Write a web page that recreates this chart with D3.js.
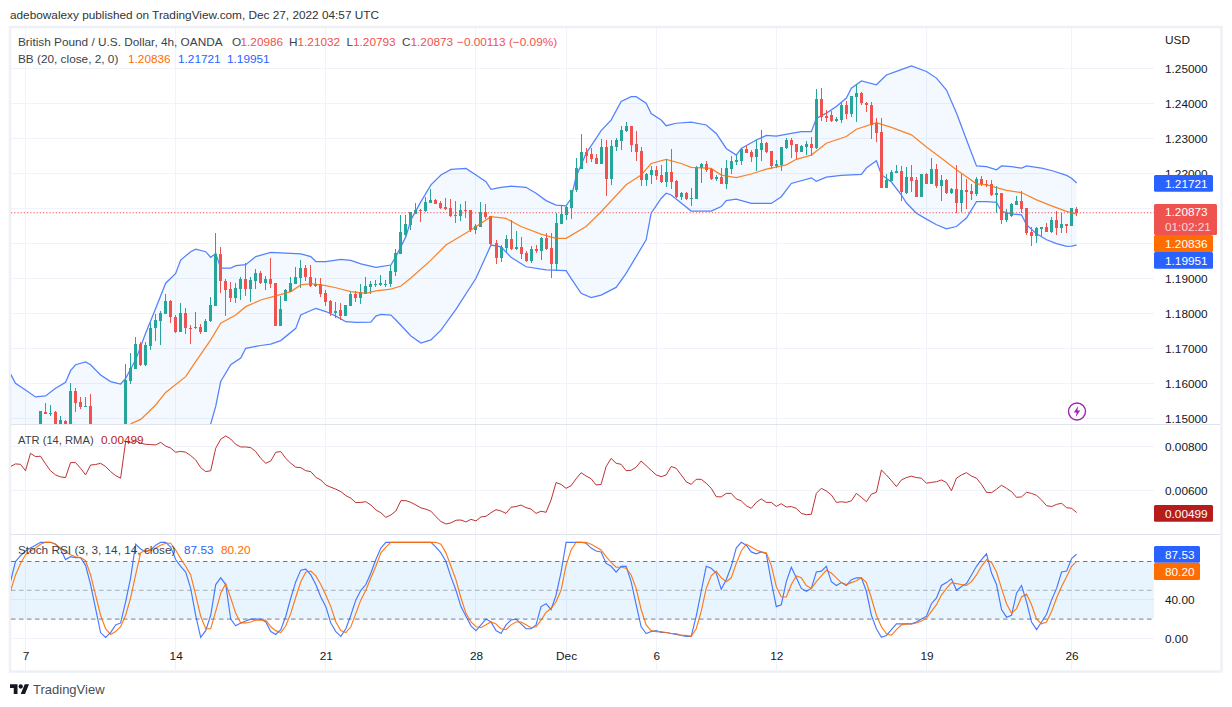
<!DOCTYPE html>
<html><head><meta charset="utf-8">
<script src="https://cdn.jsdelivr.net/npm/d3@7"></script>
<style>html,body{margin:0;padding:0;background:#fff;overflow:hidden}svg{display:block}</style>
</head><body><svg id="c" width="1232" height="707"></svg>
<script>
const N=null;
const opens=[N,N,N,N,N,N,1.1465,1.1519,1.1513,1.1517,
1.1465,1.1493,1.1470,1.1579,1.1547,1.1531,1.1536,N,N,N,
N,N,N,1.1460,1.1608,1.1642,1.1713,1.1651,1.1707,1.1757,
1.1779,1.1799,1.1836,1.1790,1.1748,1.1801,1.1759,1.1757,1.1761,1.1748,
1.1777,1.1821,1.1970,1.1893,1.1869,1.1845,1.1869,1.1898,1.1869,1.1892,
1.1915,1.1887,1.1898,1.1887,1.1765,1.1836,1.1862,1.1884,1.1901,1.1930,
1.1904,1.1878,1.1884,1.1858,1.1835,1.1802,1.1810,1.1793,1.1821,1.1855,
1.1844,1.1855,1.1875,1.1880,1.1881,1.1881,1.1884,1.1918,1.1970,1.2024,
1.2052,1.2084,1.2095,1.2092,1.2116,1.2124,1.2115,1.2104,1.2101,1.2081,
1.2078,1.2095,1.2095,1.2038,1.2047,1.2090,1.2078,1.2001,1.1957,1.1986,
1.2013,1.1984,1.1990,1.1973,1.1950,1.1984,1.1978,1.2015,1.1987,1.1941,
1.2055,1.2081,1.2101,1.2153,1.2213,1.2261,1.2255,1.2244,1.2227,1.2275,
1.2184,1.2275,1.2292,1.2320,1.2335,1.2284,1.2264,1.2181,1.2195,1.2209,
1.2195,1.2175,1.2204,1.2178,1.2133,1.2144,1.2127,1.2127,1.2215,1.2227,
1.2213,1.2184,1.2190,1.2170,1.2213,1.2233,1.2236,1.2270,1.2261,1.2247,
1.2267,1.2287,1.2264,1.2221,1.2224,1.2273,1.2296,1.2284,1.2261,1.2276,
1.2284,1.2273,1.2413,1.2364,1.2367,1.2350,1.2353,1.2396,1.2370,1.2418,
1.2430,1.2401,1.2396,1.2344,1.2318,1.2158,1.2178,1.2201,1.2207,1.2144,
1.2190,1.2181,1.2133,1.2198,1.2170,1.2213,1.2164,1.2181,1.2144,1.2155,
1.2115,1.2153,1.2150,1.2141,1.2184,1.2170,1.2170,1.2138,1.2144,1.2067,
1.2078,1.2110,1.2121,1.2101,1.2033,1.2021,1.2041,1.2047,1.2033,1.2067,
1.2044,1.2056,1.2050,1.20986];
const highs=[N,N,N,N,N,N,1.1522,1.1545,1.1539,1.1522,
1.1508,1.1496,1.1600,1.1587,1.1562,1.1562,1.1570,N,N,N,
N,N,N,1.1656,1.1686,1.1733,1.1719,1.1719,1.1772,1.1799,
1.1808,1.1856,1.1837,1.1795,1.1830,1.1816,1.1766,1.1804,1.1769,1.1784,
1.1847,1.2030,1.1990,1.1897,1.1890,1.1886,1.1903,1.1943,1.1904,1.1927,
1.1922,1.1907,1.1958,1.1888,1.1850,1.1869,1.1904,1.1932,1.1952,1.1938,
1.1938,1.1902,1.1900,1.1868,1.1838,1.1832,1.1830,1.1824,1.1862,1.1864,
1.1884,1.1904,1.1892,1.1895,1.1910,1.1895,1.1938,1.1984,1.2081,1.2081,
1.2090,1.2115,1.2098,1.2132,1.2155,1.2127,1.2121,1.2130,1.2127,1.2121,
1.2113,1.2121,1.2095,1.2055,1.2118,1.2113,1.2078,1.2009,1.1995,1.2024,
1.2067,1.2035,1.2018,1.1978,1.1993,1.1995,1.2018,1.2030,1.2030,1.2087,
1.2107,1.2107,1.2153,1.2244,1.2313,1.2273,1.2273,1.2255,1.2298,1.2295,
1.2295,1.2301,1.2335,1.2346,1.2335,1.2321,1.2275,1.2201,1.2221,1.2221,
1.2224,1.2241,1.2270,1.2180,1.2147,1.2147,1.2158,1.2221,1.2230,1.2236,
1.2216,1.2196,1.2216,1.2238,1.2250,1.2253,1.2273,1.2279,1.2267,1.2296,
1.2324,1.2290,1.2264,1.2238,1.2276,1.2301,1.2301,1.2284,1.2281,1.2293,
1.2304,1.2441,1.2444,1.2381,1.2378,1.2361,1.2404,1.2407,1.2421,1.2456,
1.2433,1.2404,1.2404,1.2358,1.2357,1.2198,1.2210,1.2224,1.2221,1.2218,
1.2224,1.2190,1.2198,1.2201,1.2244,1.2227,1.2195,1.2184,1.2158,1.2224,
1.2198,1.2184,1.2170,1.2190,1.2193,1.2181,1.2181,1.2164,1.2144,1.2098,
1.2115,1.2135,1.2150,1.2101,1.2047,1.2047,1.2047,1.2058,1.2075,1.2093,
1.2087,1.2056,1.2101,1.21032];
const lows=[N,N,N,N,N,N,1.1450,1.1513,1.1508,1.1440,
1.1450,1.1450,1.1450,1.1517,1.1526,1.1531,1.1440,N,N,N,
N,N,N,1.1440,1.1597,1.1642,1.1650,1.1650,1.1694,1.1722,
1.1710,1.1799,1.1771,1.1745,1.1748,1.1742,1.1713,1.1754,1.1742,1.1748,
1.1774,1.1821,1.1859,1.1793,1.1832,1.1830,1.1838,1.1850,1.1833,1.1870,
1.1884,1.1867,1.1873,1.1765,1.1765,1.1836,1.1862,1.1884,1.1872,1.1892,
1.1876,1.1876,1.1848,1.1821,1.1793,1.1788,1.1781,1.1792,1.1821,1.1832,
1.1827,1.1855,1.1855,1.1875,1.1878,1.1876,1.1875,1.1907,1.1970,1.2021,
1.2038,1.2084,1.2062,1.2090,1.2116,1.2112,1.2098,1.2095,1.2075,1.2058,
1.2064,1.2072,1.2033,1.2027,1.2047,1.2070,1.1995,1.1941,1.1948,1.1975,
1.1981,1.1981,1.1955,1.1947,1.1944,1.1973,1.1953,1.1981,1.1902,1.1924,
1.2055,1.2067,1.2070,1.2147,1.2213,1.2230,1.2233,1.2227,1.2227,1.2136,
1.2167,1.2263,1.2267,1.2318,1.2262,1.2235,1.2164,1.2164,1.2169,1.2181,
1.2172,1.2161,1.2156,1.2130,1.2124,1.2124,1.2107,1.2127,1.2173,1.2204,
1.2181,1.2178,1.2170,1.2156,1.2199,1.2224,1.2224,1.2258,1.2233,1.2207,
1.2236,1.2259,1.2213,1.2216,1.2207,1.2270,1.2244,1.2242,1.2261,1.2252,
1.2250,1.2270,1.2350,1.2347,1.2347,1.2347,1.2344,1.2356,1.2360,1.2347,
1.2396,1.2376,1.2299,1.2290,1.2158,1.2158,1.2177,1.2200,1.2121,1.2141,
1.2147,1.2133,1.2133,1.2169,1.2170,1.2158,1.2121,1.2141,1.2141,1.2087,
1.2090,1.2098,1.2124,1.2135,1.2164,1.2161,1.2135,1.2087,1.2056,1.2061,
1.2075,1.2110,1.2087,1.2024,1.1993,1.2001,1.2021,1.2033,1.2030,1.2024,
1.2030,1.2030,1.2050,1.20793];
const closes=[N,N,N,N,N,N,1.1520,1.1513,1.1516,1.1465,
1.1494,1.1470,1.1579,1.1545,1.1532,1.1536,1.1450,N,N,N,
N,N,N,1.1610,1.1644,1.1713,1.1651,1.1710,1.1759,1.1781,
1.1801,1.1836,1.1789,1.1747,1.1801,1.1757,1.1756,1.1761,1.1748,1.1779,
1.1824,1.1970,1.1891,1.1868,1.1844,1.1872,1.1899,1.1870,1.1895,1.1915,
1.1887,1.1898,1.1884,1.1765,1.1812,1.1867,1.1887,1.1904,1.1930,1.1904,
1.1878,1.1885,1.1855,1.1832,1.1800,1.1808,1.1792,1.1824,1.1855,1.1844,
1.1861,1.1878,1.1884,1.1884,1.1887,1.1884,1.1921,1.1972,1.2032,1.2055,
1.2090,1.2095,1.2091,1.2118,1.2124,1.2113,1.2101,1.2098,1.2078,1.2078,
1.2095,1.2092,1.2038,1.2050,1.2090,1.2075,1.1998,1.1958,1.1990,1.2013,
1.1984,1.1990,1.1970,1.1950,1.1984,1.1978,1.2015,1.1984,1.1941,1.2058,
1.2084,1.2104,1.2153,1.2215,1.2261,1.2250,1.2241,1.2227,1.2275,1.2184,
1.2278,1.2295,1.2324,1.2335,1.2282,1.2261,1.2181,1.2198,1.2209,1.2192,
1.2175,1.2204,1.2175,1.2133,1.2144,1.2127,1.2130,1.2218,1.2227,1.2210,
1.2184,1.2190,1.2170,1.2216,1.2236,1.2239,1.2270,1.2259,1.2247,1.2270,
1.2287,1.2261,1.2221,1.2227,1.2276,1.2296,1.2281,1.2261,1.2278,1.2284,
1.2273,1.2413,1.2361,1.2358,1.2350,1.2356,1.2396,1.2370,1.2421,1.2430,
1.2400,1.2394,1.2338,1.2316,1.2158,1.2181,1.2204,1.2207,1.2147,1.2190,
1.2178,1.2133,1.2198,1.2170,1.2213,1.2164,1.2181,1.2144,1.2155,1.2115,
1.2153,1.2147,1.2141,1.2184,1.2170,1.2167,1.2138,1.2144,1.2067,1.2087,
1.2113,1.2121,1.2098,1.2030,1.2021,1.2044,1.2047,1.2033,1.2067,1.2044,
1.2056,1.2050,1.2101,1.20873];

const upperBars=[0,1,3,5,7,9,11,12,13,15,16,18,20,22,23,25,27,29,31,33,34,36,37,39,40,41,42,44,45,47,49,52,55,58,60,61,63,66,68,70,73,76,77,79,80,82,84,86,88,91,93,95,96,98,100,103,105,107,109,111,112,113,115,117,118,120,122,124,125,127,128,130,131,133,136,139,141,143,145,146,149,151,153,156,158,160,161,163,165,167,168,170,173,175,177,180,183,185,187,189,191,193,195,197,198,200,202,203,206,208,211,212,213];
const upperBand=[1.1627,1.1600,1.1581,1.1561,1.1564,1.1586,1.1603,1.1636,1.1653,1.1661,1.1653,1.1624,1.1605,1.1598,1.1614,1.1667,1.1743,1.1814,1.1886,1.1914,1.1952,1.1976,1.1983,1.1976,1.1960,1.1971,1.1929,1.1929,1.1936,1.1939,1.1962,1.1974,1.1972,1.1970,1.1962,1.1948,1.1948,1.1954,1.1951,1.1941,1.1931,1.1938,1.1962,1.2019,1.2067,1.2119,1.2167,1.2195,1.2211,1.2214,1.2195,1.2176,1.2154,1.2160,1.2163,1.2160,1.2143,1.2122,1.2109,1.2107,1.2128,1.2190,1.2257,1.2300,1.2322,1.2352,1.2405,1.2419,1.2419,1.2400,1.2371,1.2352,1.2336,1.2343,1.2346,1.2338,1.2314,1.2271,1.2252,1.2271,1.2295,1.2308,1.2306,1.2314,1.2319,1.2319,1.2357,1.2372,1.2391,1.2415,1.2443,1.2464,1.2453,1.2481,1.2491,1.2507,1.2491,1.2472,1.2438,1.2372,1.2296,1.2221,1.2219,1.2210,1.2221,1.2219,1.2215,1.2221,1.2215,1.2208,1.2194,1.2186,1.21721];
const basisBars=[24,26,27,29,31,35,37,40,42,45,47,50,53,56,58,60,63,65,68,71,73,76,78,80,84,87,92,96,99,102,106,109,111,115,118,123,126,128,131,134,136,140,142,145,148,151,155,157,160,163,167,169,173,176,180,183,186,189,193,195,199,202,205,208,211,213];
const basisBand=[1.1484,1.1497,1.1510,1.1538,1.1574,1.1619,1.1662,1.1724,1.1772,1.1795,1.1819,1.1838,1.1850,1.1862,1.1881,1.1885,1.1879,1.1873,1.1862,1.1857,1.1864,1.1869,1.1878,1.1901,1.1952,1.1995,1.2038,1.2076,1.2071,1.2048,1.2026,1.2014,1.2014,1.2048,1.2090,1.2167,1.2195,1.2228,1.2240,1.2228,1.2217,1.2214,1.2195,1.2188,1.2198,1.2212,1.2224,1.2240,1.2252,1.2286,1.2305,1.2326,1.2345,1.2331,1.2310,1.2275,1.2243,1.2210,1.2170,1.2167,1.2151,1.2145,1.2124,1.2107,1.2091,1.20836];
const lowerBars=[0,39,40,41,42,44,46,47,50,52,54,57,58,60,61,63,65,67,69,72,73,74,76,77,80,82,84,86,89,93,96,98,100,103,107,111,112,114,116,118,121,123,127,128,130,131,132,136,140,142,143,145,148,152,154,156,160,161,163,166,170,171,173,174,176,178,179,181,183,185,187,189,191,193,195,197,198,200,202,203,205,207,209,211,212,213];
const lowerBand=[1.1400,1.1400,1.1484,1.1534,1.1605,1.1653,1.1672,1.1700,1.1708,1.1712,1.1722,1.1757,1.1795,1.1808,1.1814,1.1805,1.1792,1.1776,1.1774,1.1775,1.1792,1.1797,1.1795,1.1781,1.1735,1.1715,1.1724,1.1752,1.1811,1.1900,1.1995,1.1990,1.1960,1.1933,1.1924,1.1922,1.1900,1.1857,1.1845,1.1852,1.1874,1.1914,1.2010,1.2086,1.2128,1.2143,1.2138,1.2092,1.2092,1.2105,1.2122,1.2126,1.2114,1.2114,1.2133,1.2171,1.2187,1.2177,1.2189,1.2194,1.2197,1.2215,1.2236,1.2196,1.2175,1.2138,1.2115,1.2086,1.2069,1.2053,1.2041,1.2048,1.2072,1.2119,1.2119,1.2117,1.2091,1.2084,1.2081,1.2053,1.2027,1.2010,1.1999,1.1991,1.1992,1.19951];

const atrValues=[.00708,.00720,.00718,.00689,.00768,.00753,.00755,.00720,.00689,.00670,
.00661,.00658,.00726,.00726,.00700,.00670,.00715,.00717,.00723,.00708,
.00685,.00667,.00655,.00821,.00817,.00826,.00814,.00809,.00808,.00806,
.00818,.00801,.00792,.00773,.00777,.00773,.00758,.00738,.00703,.00685,
.00689,.00791,.00832,.00847,.00833,.00809,.00797,.00797,.00794,.00776,
.00745,.00723,.00733,.00773,.00776,.00745,.00723,.00705,.00703,.00689,
.00685,.00659,.00647,.00624,.00614,.00605,.00594,.00576,.00564,.00544,
.00545,.00548,.00533,.00511,.00498,.00477,.00488,.00506,.00553,.00553,
.00545,.00533,.00520,.00514,.00505,.00480,.00458,.00447,.00452,.00464,
.00465,.00456,.00468,.00461,.00479,.00482,.00498,.00512,.00506,.00495,
.00523,.00526,.00533,.00521,.00515,.00495,.00505,.00500,.00556,.00635,
.00627,.00609,.00621,.00652,.00680,.00665,.00653,.00624,.00627,.00708,
.00745,.00723,.00718,.00689,.00691,.00705,.00733,.00712,.00691,.00670,
.00662,.00670,.00708,.00700,.00670,.00639,.00627,.00650,.00650,.00632,
.00609,.00571,.00570,.00586,.00586,.00561,.00552,.00530,.00518,.00545,
.00561,.00545,.00545,.00527,.00539,.00524,.00526,.00518,.00495,.00489,
.00491,.00586,.00609,.00597,.00579,.00545,.00548,.00545,.00552,.00586,
.00568,.00548,.00582,.00591,.00692,.00670,.00644,.00617,.00647,.00658,
.00664,.00658,.00655,.00632,.00636,.00639,.00647,.00635,.00598,.00655,
.00670,.00680,.00665,.00655,.00627,.00591,.00589,.00605,.00623,.00609,
.00594,.00568,.00570,.00591,.00586,.00577,.00556,.00530,.00526,.00536,
.00541,.00521,.00518,.00499];

const stochK=[59,80,86,91,94,97,100,100,100,98,
93,82,85,84,84,76,56,31,6,1,
6,14,16,38,63,98,93,90,92,97,
100,100,95,82,75,69,52,24,1,8,
24,56,63,56,20,13,16,18,20,20,
20,17,7,4,9,23,42,59,71,72,
66,56,43,33,16,7,2,10,24,40,
50,56,68,82,94,100,100,100,100,100,
100,100,100,100,100,95,89,80,64,50,
33,23,13,8,14,20,17,8,5,14,
19,20,15,10,10,14,33,36,30,45,
69,100,100,100,100,99,94,91,90,78,
75,69,75,75,59,35,12,5,7,8,
6,6,5,4,3,2,2,23,49,75,
73,68,51,61,75,94,100,97,90,88,
90,88,59,33,35,59,74,63,52,49,
52,69,70,75,59,55,58,55,61,63,
63,49,24,10,1,3,9,15,15,15,
15,17,20,23,36,42,55,58,62,50,
54,57,66,75,82,88,68,56,30,22,
24,47,55,38,17,9,17,25,40,52,
69,70,83,87.53];
const stochD=[49,66,78,87,91,94,98,100,100,98,
94,90,87,85,84,81,66,45,24,10,
4,7,12,24,42,66,89,92,91,94,
97,99,99,92,83,75,66,45,23,10,
10,28,47,57,42,26,16,16,17,19,
19,19,12,8,6,13,26,43,59,69,
70,65,56,45,33,17,8,6,12,26,
40,50,63,75,89,95,100,100,100,100,
100,100,100,100,100,100,98,89,75,61,
42,26,17,12,11,14,17,15,10,9,
14,17,17,14,11,12,19,27,31,38,
50,76,92,100,100,100,98,95,92,85,
79,74,74,73,66,52,30,14,8,7,
7,6,5,5,3,3,2,10,28,52,
65,70,63,59,63,78,91,98,95,92,
90,89,76,54,43,43,56,65,63,55,
52,59,65,71,68,63,58,56,58,60,
63,58,42,24,12,5,3,9,14,15,
15,16,18,21,28,35,45,52,58,57,
56,55,59,66,75,82,79,69,52,36,
26,31,43,46,35,20,15,17,28,42,
54,64,75,80.20];

const priceTicks=[1.15,1.16,1.17,1.18,1.19,1.20,1.21,1.22,1.23,1.24,1.25];
const atrTicks=[0.006,0.008];
const stochTicks=[0,40];
const stochGuides=[80,50,20];
const dateBars=[3,33,63,93,111,129,153,183,212];
const dateLabels=['7','14','21','28','Dec','6','12','19','26'];
const FONT='"Liberation Sans",Arial,sans-serif';
const TXT='#131722',GRID='#f0f3fa',GREEN='#26a69a',RED='#ef5350',BLUE='#2962ff',ORANGE='#ff6d00',ATRC='#b71c1c',PURPLE='#9c27b0';

const svg=d3.select('#c').style('font-family',FONT).style('font-size','11.8px');
const x=d3.scaleLinear().domain([0,213]).range([10.5,1076.6]);
const yP=d3.scaleLinear().domain([1.15,1.25]).range([418.3,68.3]);
const yA=d3.scaleLinear().domain([0.006,0.008]).range([490.3,446.3]);
const yS=d3.scaleLinear().domain([0,100]).range([638.3,542.3]);
const L=11,R=1154;
const defs=svg.append('defs');
[['p',28,424],['a',425,534],['s',535,670]].forEach(([id,a,b])=>defs.append('clipPath').attr('id',id).append('rect').attr('x',L).attr('y',a).attr('width',R-L).attr('height',b-a));

// frame
svg.append('rect').attr('x',10).attr('y',27).attr('width',1211.5).attr('height',644.5).attr('fill','none').attr('stroke','#eef0f6').attr('stroke-width',2.5);

// grid
const grid=svg.append('g').attr('stroke',GRID).attr('stroke-width',1).attr('shape-rendering','crispEdges');
grid.selectAll('.v').data(dateBars).join('line').attr('x1',d=>x(d)).attr('x2',d=>x(d)).attr('y1',28).attr('y2',670);
grid.selectAll('.hp').data(priceTicks).join('line').attr('x1',L).attr('x2',R).attr('y1',d=>yP(d)).attr('y2',d=>yP(d));
grid.selectAll('.ha').data(atrTicks).join('line').attr('x1',L).attr('x2',R).attr('y1',d=>yA(d)).attr('y2',d=>yA(d));
grid.selectAll('.hs').data(stochTicks).join('line').attr('x1',L).attr('x2',R).attr('y1',d=>yS(d)).attr('y2',d=>yS(d));
svg.append('g').attr('stroke','#e0e3eb').attr('shape-rendering','crispEdges').selectAll('line').data([424.5,534.5]).join('line').attr('x1',L).attr('x2',1220).attr('y1',d=>d).attr('y2',d=>d);

// price pane
const gp=svg.append('g').attr('clip-path','url(#p)');
const pt=(xs,ys)=>xs.map((d,k)=>[x(d),yP(ys[k])]);
const up=pt(upperBars,upperBand),lo=pt(lowerBars,lowerBand),ba=pt(basisBars,basisBand);
const ln=d3.line();
gp.append('path').attr('d',ln(up.concat(lo.slice().reverse()))+'Z').attr('fill','#2196f3').attr('fill-opacity',.055);
const live=closes.map((c,i)=>({i,o:opens[i],h:highs[i],l:lows[i],c})).filter(d=>d.c!==null);
const col=d=>d.c>=d.o?GREEN:RED;
gp.append('path').attr('d',ln(up)).attr('fill','none').attr('stroke',BLUE).attr('stroke-width',1.25).attr('stroke-opacity',.8);
gp.append('path').attr('d',ln(lo)).attr('fill','none').attr('stroke',BLUE).attr('stroke-width',1.25).attr('stroke-opacity',.8);
const cx=i=>Math.floor(x(i));
const cg=gp.append('g').attr('shape-rendering','crispEdges');
cg.selectAll('.w').data(live).join('rect').attr('x',d=>cx(d.i)).attr('width',1).attr('y',d=>yP(d.h)).attr('height',d=>yP(d.l)-yP(d.h)).attr('fill',col);
cg.selectAll('.b').data(live).join('rect').attr('x',d=>cx(d.i)-1).attr('width',3).attr('y',d=>yP(Math.max(d.o,d.c))).attr('height',d=>Math.max(1,Math.abs(yP(d.o)-yP(d.c)))).attr('fill',col);
gp.append('path').attr('d',ln(ba)).attr('fill','none').attr('stroke',ORANGE).attr('stroke-width',1.25).attr('stroke-opacity',.85);
gp.append('line').attr('x1',L).attr('x2',R).attr('y1',yP(closes[213])).attr('y2',yP(closes[213])).attr('stroke',RED).attr('stroke-dasharray','1.2 2');

// ATR pane
svg.append('g').attr('clip-path','url(#a)').append('path').attr('d',d3.line().x((d,i)=>x(i)).y(d=>yA(d))(atrValues)).attr('fill','none').attr('stroke',ATRC).attr('stroke-opacity',.9);

// Stoch pane
const gs=svg.append('g').attr('clip-path','url(#s)');
gs.append('rect').attr('x',L).attr('width',R-L).attr('y',yS(80)).attr('height',yS(20)-yS(80)).attr('fill','#2196f3').attr('fill-opacity',.1);
gs.selectAll('.g').data(stochGuides).join('line').attr('x1',L).attr('x2',R).attr('y1',d=>yS(d)).attr('y2',d=>yS(d)).attr('stroke','#787b86').attr('stroke-opacity',d=>d===50?.6:1).attr('stroke-dasharray','4.5 3.5');
const ls=d3.line().x((d,i)=>x(i)).y(d=>yS(d));
gs.append('path').attr('d',ls(stochK)).attr('fill','none').attr('stroke',BLUE).attr('stroke-width',1.15).attr('stroke-opacity',.85);
gs.append('path').attr('d',ls(stochD)).attr('fill','none').attr('stroke',ORANGE).attr('stroke-width',1.15).attr('stroke-opacity',.9);

// axes
const fix=g=>{g.select('.domain').remove();g.selectAll('line').remove();g.selectAll('text').attr('fill',TXT).style('font-family',FONT).style('font-size','11.8px')};
svg.append('g').attr('transform',`translate(${R},0)`).call(d3.axisRight(yP).tickValues(priceTicks).tickFormat(d3.format('.5f')).tickSize(0).tickPadding(11)).call(fix);
svg.append('g').attr('transform',`translate(${R},0)`).call(d3.axisRight(yA).tickValues(atrTicks).tickFormat(d3.format('.5f')).tickSize(0).tickPadding(11)).call(fix);
svg.append('g').attr('transform',`translate(${R},0)`).call(d3.axisRight(yS).tickValues(stochTicks).tickFormat(d3.format('.2f')).tickSize(0).tickPadding(11)).call(fix);
svg.append('g').attr('transform','translate(0,645)').call(d3.axisBottom(x).tickValues(dateBars).tickFormat((d,k)=>dateLabels[k]).tickSize(0).tickPadding(7)).call(fix);

// price tags
const tag=(y0,y1,w,fill,lines)=>{
  svg.append('rect').attr('x',R).attr('y',y0).attr('width',w).attr('height',y1-y0).attr('rx',1.5).attr('fill',fill);
  lines.forEach((t,k)=>svg.append('text').attr('x',1165).attr('y',y0+(k+.5)*(y1-y0)/lines.length+4.2).attr('fill',k?'rgba(255,255,255,.75)':'#fff').text(t));
};
tag(175,191.7,59,BLUE,['1.21721']);
tag(204,235,63,RED,['1.20873','01:02:21']);
tag(235,252,59,ORANGE,['1.20836']);
tag(252,268.7,59,BLUE,['1.19951']);
tag(505,521.7,59,ATRC,['0.00499']);
tag(546,562.7,46,BLUE,['87.53']);
tag(562.7,580,46,ORANGE,['80.20']);
svg.append('text').attr('x',1165).attr('y',44).attr('fill',TXT).text('USD');

// legends
const txt=(xx,yy,t,c)=>svg.append('text').attr('x',xx).attr('y',yy).attr('fill',c||'#3a3f4b').text(t);
txt(10,19,'adebowalexy published on TradingView.com, Dec 27, 2022 04:57 UTC','#333');
txt(18,46,'British Pound / U.S. Dollar, 4h, OANDA');
txt(232,46,'O');txt(240.5,46,'1.20986',RED);
txt(289,46,'H');txt(297.5,46,'1.21032',RED);
txt(346.5,46,'L');txt(353,46,'1.20793',RED);
txt(402,46,'C');txt(410.5,46,'1.20873',RED);txt(457,46,'\u22120.00113 (\u22120.09%)',RED);
txt(18,63,'BB (20, close, 2, 0)');
txt(128,63,'1.20836',ORANGE);txt(178,63,'1.21721',BLUE);txt(227,63,'1.19951',BLUE);
txt(18,444,'ATR (14, RMA)').style('font-size','11.2px');txt(101,444,'0.00499',ATRC);
txt(18,554,'Stoch RSI (3, 3, 14, 14, close)');txt(184,554,'87.53',BLUE);txt(221,554,'80.20',ORANGE);

// bolt badge
const bolt=svg.append('g').attr('transform','translate(1077,411.5)');
bolt.append('circle').attr('r',8.5).attr('fill','#fff').attr('stroke',PURPLE).attr('stroke-width',1.4);
bolt.append('path').attr('d','M1.2 -5.5 L-3.2 1 H-0.4 L-1.2 5.5 L3.2 -1 H0.4 Z').attr('fill',PURPLE);

// footer
const brand=svg.append('g').attr('transform','translate(10,682.2) scale(.536)').attr('fill','#131722');
brand.append('path').attr('d','M14 22H7V11H0V4h14v18zM28 22h-8l7.5-18h8L28 22z');
brand.append('circle').attr('cx',20).attr('cy',8).attr('r',4);
svg.append('text').attr('x',33).attr('y',694).attr('fill','#4a4e59').style('font-size','13px').text('TradingView');
</script></body></html>
